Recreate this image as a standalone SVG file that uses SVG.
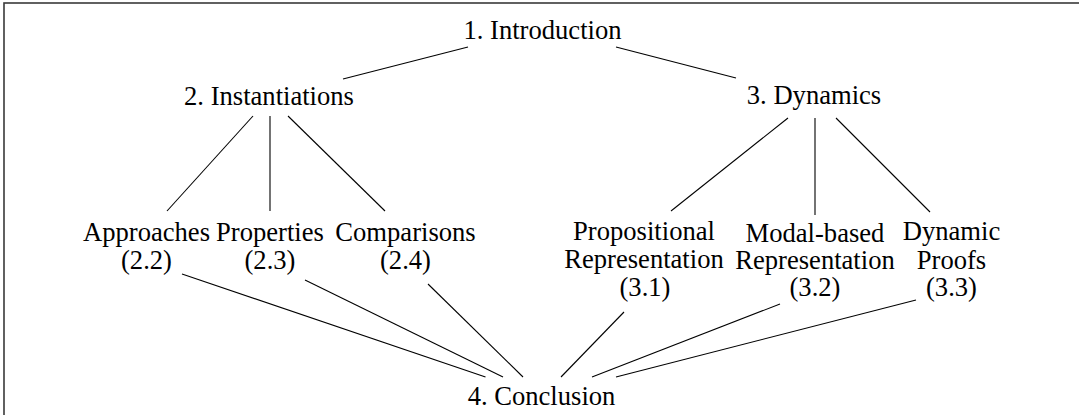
<svg xmlns="http://www.w3.org/2000/svg" width="1079" height="415" viewBox="0 0 1079 415">
<style>
text{font-family:"Liberation Serif","Times New Roman",serif;font-size:26.6px;fill:#000;text-anchor:middle}
.c line{stroke:#000;stroke-width:1.1}
</style>
<rect x="0" y="0" width="1079" height="415" fill="#fff"/>
<rect x="4" y="3" width="1200" height="600" fill="none" stroke="#3a3a3a" stroke-width="1.6"/>
<g class="c" id="connectors">
<line x1="468" y1="47" x2="343" y2="79"/>
<line x1="616" y1="47" x2="736" y2="78"/>
<line x1="253" y1="116" x2="167" y2="211"/>
<line x1="270" y1="116" x2="270" y2="211"/>
<line x1="288" y1="116" x2="385" y2="211"/>
<line x1="788" y1="118" x2="671" y2="211"/>
<line x1="815" y1="118" x2="815" y2="215"/>
<line x1="836" y1="118" x2="930" y2="212"/>
<line x1="182" y1="274" x2="485.5" y2="377"/>
<line x1="305" y1="280" x2="503" y2="377"/>
<line x1="428" y1="284" x2="523" y2="377"/>
<line x1="624" y1="312" x2="561" y2="377"/>
<line x1="780" y1="304" x2="592" y2="377"/>
<line x1="916" y1="300" x2="616" y2="377"/>
</g>
<g id="n1"><text x="542.5" y="39">1. Introduction</text></g>
<g id="n2"><text x="269" y="105">2. Instantiations</text></g>
<g id="n3"><text x="814" y="104">3. Dynamics</text></g>
<g id="n22"><text x="146.5" y="241">Approaches</text><text x="146.5" y="269">(2.2)</text></g>
<g id="n23"><text x="270" y="241">Properties</text><text x="270" y="269">(2.3)</text></g>
<g id="n24"><text x="405.5" y="241">Comparisons</text><text x="405.5" y="269">(2.4)</text></g>
<g id="n31"><text x="644" y="240">Propositional</text><text x="644" y="268">Representation</text><text x="645" y="296">(3.1)</text></g>
<g id="n32"><text x="815" y="241.5">Modal-based</text><text x="815" y="268.5">Representation</text><text x="815" y="296">(3.2)</text></g>
<g id="n33"><text x="951.5" y="240">Dynamic</text><text x="951.5" y="269">Proofs</text><text x="951.5" y="296">(3.3)</text></g>
<g id="n4"><text x="541.5" y="405">4. Conclusion</text></g>
</svg>
